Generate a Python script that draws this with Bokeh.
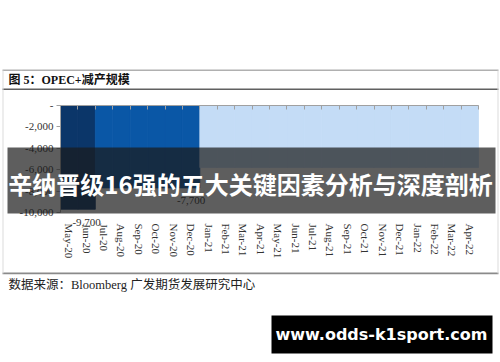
from bokeh.plotting import figure
from bokeh.models import (ColumnDataSource, FixedTicker, LinearAxis, LabelSet,
                          Label, BoxAnnotation, Range1d)
from bokeh.core.properties import value
from bokeh.embed import file_html
from bokeh.resources import INLINE

# OPEC+ production cut schedule (thousand barrels per day, negative = cut)
months = ["May-20", "Jun-20", "Jul-20", "Aug-20", "Sep-20", "Oct-20", "Nov-20", "Dec-20",
          "Jan-21", "Feb-21", "Mar-21", "Apr-21", "May-21", "Jun-21", "Jul-21", "Aug-21",
          "Sep-21", "Oct-21", "Nov-21", "Dec-21", "Jan-22", "Feb-22", "Mar-22", "Apr-22"]
cuts = [-9700, -9700, -7700, -7700, -7700, -7700, -7700, -7700,
        -5800, -5800, -5800, -5800, -5800, -5800, -5800, -5800,
        -5800, -5800, -5800, -5800, -5800, -5800, -5800, -5800]
labelled_months = ["Jun-20", "Dec-20"]

y_ticks = [0, -2000, -4000, -6000, -8000, -10000]
y_tick_labels = ["-", "-2,000", "-4,000", "-6,000", "-8,000", "-10,000"]

title_text = "图 5：OPEC+减产规模"
source_text = "数据来源：Bloomberg 广发期货发展研究中心"
banner_text = "辛纳晋级16强的五大关键因素分析与深度剖析"
site_text = "www.odds-k1sport.com"

# phase colours
palette = {-9700: "#0b3669", -7700: "#0a57a6", -5800: "#c4dcf6"}

SERIF = "'Liberation Serif', 'Noto Sans CJK SC', serif"
W, H = 500, 362
# pixel box of the bar area inside the page
AREA_L, AREA_R, AREA_T, AREA_B = 60, 478, 105, 212

n = len(months)
x_lo, x_hi = -0.5, n - 0.5
y_lo, y_hi = y_ticks[-1], y_ticks[0]

# the frame fills the whole canvas; ranges are widened so the bar area lands
# on its pixel box and the page furniture can be drawn around it
ux = (x_hi - x_lo) / (AREA_R - AREA_L)
uy = (y_hi - y_lo) / (AREA_B - AREA_T)
x_range = Range1d(x_lo - AREA_L * ux, x_hi + (W - AREA_R) * ux)
y_range = Range1d(y_lo - (H - AREA_B) * uy, y_hi + AREA_T * uy)

p = figure(width=W, height=H, output_backend="svg", toolbar_location=None,
           x_range=x_range, y_range=y_range,
           min_border=0, min_border_left=0, min_border_right=0,
           min_border_top=0, min_border_bottom=0,
           outline_line_color=None, background_fill_color="white",
           border_fill_color="white")
p.xgrid.visible = False
p.ygrid.visible = False


def sx(px):
    return px


def sy(py):
    return H - py


src = ColumnDataSource(dict(x=list(range(n)), month=months, cut=cuts,
                            color=[palette[v] for v in cuts]))
p.vbar(x="x", top=0, bottom="cut", width=1, fill_color="color",
       line_color="color", line_width=0.8, source=src)

# left value axis, pinned to the left edge of the bars
ya = p.yaxis[0]
ya.fixed_location = x_lo
ya.bounds = (y_lo, y_hi)
ya.ticker = FixedTicker(ticks=y_ticks)
ya.major_label_overrides = dict(zip(y_ticks, y_tick_labels))
ya.axis_line_color = "#a0a0a0"
ya.major_tick_line_color = "#a0a0a0"
ya.major_tick_out = 4
ya.major_tick_in = 0
ya.minor_tick_line_color = None
ya.major_label_text_font = SERIF
ya.major_label_text_font_size = "11px"
ya.major_label_text_color = "#333333"
ya.major_label_standoff = 3

# month labels along the bottom of the bar area
xa = p.xaxis[0]
xa.fixed_location = y_lo
xa.bounds = (x_lo, x_hi)
xa.ticker = FixedTicker(ticks=list(range(n)))
xa.major_label_overrides = {i: m for i, m in enumerate(months)}
xa.major_label_orientation = "vertical"
xa.axis_line_color = None
xa.major_tick_line_color = None
xa.minor_tick_line_color = None
xa.major_label_text_font = SERIF
xa.major_label_text_font_size = "11px"
xa.major_label_text_color = "#333333"
xa.major_label_standoff = 5

# category axis line at zero with ticks between months
top_axis = LinearAxis(fixed_location=0, bounds=(x_lo, x_hi),
                      ticker=FixedTicker(ticks=[i - 0.5 for i in range(n + 1)]),
                      axis_line_color="#a0a0a0", major_tick_line_color="#a0a0a0",
                      major_tick_in=4, major_tick_out=0, minor_tick_line_color=None,
                      major_label_text_alpha=0, major_label_text_font_size="8px")
p.add_layout(top_axis, "above")

# value labels under the last bar of each phase
idx = [months.index(m) for m in labelled_months]
lab_src = ColumnDataSource(dict(x=idx, cut=[cuts[i] for i in idx],
                                text=[f"{cuts[i]:,}" for i in idx]))
p.add_layout(LabelSet(x="x", y="cut", text="text", source=lab_src,
                      text_align="center", text_baseline="middle", y_offset=-13,
                      text_font=value(SERIF), text_font_size=value("11px"),
                      text_color="#333333"))


def box(x0, x1, y0, y1, color, alpha=1.0):
    return BoxAnnotation(left=sx(x0), right=sx(x1), top=sy(y0), bottom=sy(y1),
                         left_units="screen", right_units="screen",
                         top_units="screen", bottom_units="screen",
                         fill_color=color, fill_alpha=alpha, line_color=None)


# frame rules
p.add_layout(box(2, 498, 69, 70.5, "#b0b0b0"))
p.add_layout(box(2, 498, 88, 89.5, "#606060"))
p.add_layout(box(2, 498, 272, 273.8, "#8a8a8a"))
p.add_layout(box(2, 3, 70, 273, "#dcdcdc"))
p.add_layout(box(497, 498, 70, 273, "#dcdcdc"))

p.add_layout(Label(x=sx(8), y=sy(79), x_units="screen", y_units="screen",
                   text=title_text, text_font=SERIF, text_font_style="bold",
                   text_font_size="12px", text_color="#111111",
                   text_baseline="middle"))
p.add_layout(Label(x=sx(8), y=sy(284), x_units="screen", y_units="screen",
                   text=source_text, text_font=SERIF, text_font_size="12.5px",
                   text_color="#222222", text_baseline="middle"))

# headline banner
p.add_layout(box(7, 495, 147, 213, "#1a1a1a", 0.7))
p.add_layout(Label(x=sx(250), y=sy(183), x_units="screen", y_units="screen",
                   text=banner_text, text_font="Noto Sans CJK SC",
                   text_font_style="bold", text_font_size="24px",
                   text_color="white", text_align="center",
                   text_baseline="middle"))

# site badge
p.add_layout(box(271, 492, 315, 353, "#000000"))
p.add_layout(Label(x=sx(381), y=sy(334), x_units="screen", y_units="screen",
                   text=site_text, text_font="DejaVu Sans",
                   text_font_style="bold", text_font_size="16px",
                   text_color="white", text_align="center",
                   text_baseline="middle"))

open("out.html", "w").write(file_html(p, INLINE))
